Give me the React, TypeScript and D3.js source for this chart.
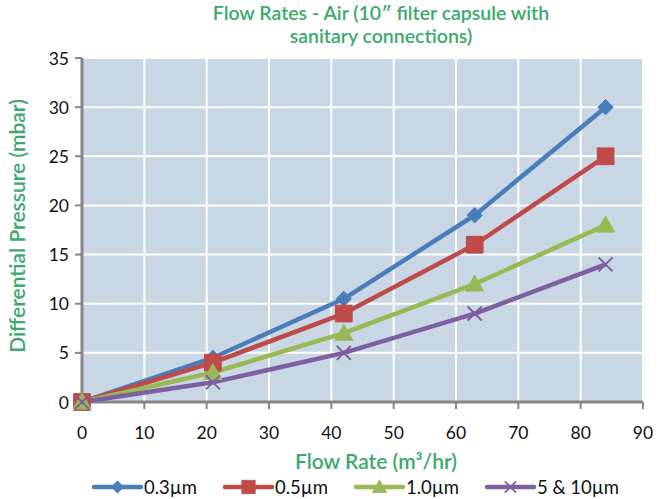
import { useEffect, useRef } from "react";
import * as d3 from "d3";

// flow rate (m³/hr) and differential pressure (mbar) per filter grade
const flowRates = [0, 21, 42, 63, 84];
const p03 = [0, 4.5, 10.5, 19, 30];
const p05 = [0, 4, 9, 16, 25];
const p10 = [0, 3, 7, 12, 18];
const p510 = [0, 2, 5, 9, 14];

const seriesNames = ["0.3µm", "0.5µm", "1.0µm", "5 & 10µm"];
const seriesColors = ["#4a7ebb", "#be4b48", "#98b954", "#7d60a0"];
const seriesMarkers = ["diamond", "square", "triangle", "cross"];

const xTicks = [0, 10, 20, 30, 40, 50, 60, 70, 80, 90];
const yTicks = [0, 5, 10, 15, 20, 25, 30, 35];

const GREEN = "#3aaa6c";
const FONT = "Lato, 'Open Sans', sans-serif";

const App = () => {
  const svgRef = useRef<SVGSVGElement | null>(null);

  useEffect(() => {
    const width = 658;
    const height = 499;
    const margin = { top: 58, right: 15, bottom: 97, left: 82 };

    const svg = d3.select(svgRef.current);
    svg.selectAll("*").remove();
    svg.attr("width", width).attr("height", height);

    const x = d3.scaleLinear().domain([0, 90]).range([margin.left, width - margin.right]);
    const y = d3.scaleLinear().domain([0, 35]).range([height - margin.bottom, margin.top]);

    // plot background
    svg
      .append("rect")
      .attr("x", x(0))
      .attr("y", y(35))
      .attr("width", x(90) - x(0))
      .attr("height", y(0) - y(35))
      .attr("fill", "#c9d7e5");

    // gridlines
    svg
      .selectAll(".vgrid")
      .data(xTicks.slice(1))
      .enter()
      .append("line")
      .attr("x1", (d) => x(d))
      .attr("x2", (d) => x(d))
      .attr("y1", y(0))
      .attr("y2", y(35))
      .attr("stroke", "white")
      .attr("stroke-width", 2);

    svg
      .selectAll(".hgrid")
      .data(yTicks.slice(1))
      .enter()
      .append("line")
      .attr("x1", x(0))
      .attr("x2", x(90))
      .attr("y1", (d) => y(d))
      .attr("y2", (d) => y(d))
      .attr("stroke", "white")
      .attr("stroke-width", 2);

    // axes
    const axisColor = "#868686";
    svg
      .append("line")
      .attr("x1", x(0))
      .attr("x2", x(0))
      .attr("y1", y(0))
      .attr("y2", y(35))
      .attr("stroke", axisColor)
      .attr("stroke-width", 3);
    svg
      .append("line")
      .attr("x1", x(0) - 1)
      .attr("x2", x(90))
      .attr("y1", y(0))
      .attr("y2", y(0))
      .attr("stroke", axisColor)
      .attr("stroke-width", 3);

    svg
      .selectAll(".ytick")
      .data(yTicks)
      .enter()
      .append("line")
      .attr("x1", x(0) - 7)
      .attr("x2", x(0))
      .attr("y1", (d) => y(d))
      .attr("y2", (d) => y(d))
      .attr("stroke", axisColor)
      .attr("stroke-width", 2);

    svg
      .selectAll(".xtick")
      .data(xTicks)
      .enter()
      .append("line")
      .attr("x1", (d) => x(d))
      .attr("x2", (d) => x(d))
      .attr("y1", y(0))
      .attr("y2", y(0) + 7)
      .attr("stroke", axisColor)
      .attr("stroke-width", 2);

    svg
      .selectAll(".ylabel")
      .data(yTicks)
      .enter()
      .append("text")
      .attr("x", x(0) - 13)
      .attr("y", (d) => y(d))
      .attr("text-anchor", "end")
      .attr("dominant-baseline", "central")
      .attr("fill", "#111")
      .style("font-family", FONT)
      .style("font-size", "17.5px")
      .text((d) => d);

    svg
      .selectAll(".xlabel")
      .data(xTicks)
      .enter()
      .append("text")
      .attr("x", (d) => x(d))
      .attr("y", y(0) + 30)
      .attr("text-anchor", "middle")
      .attr("dominant-baseline", "central")
      .attr("fill", "#111")
      .style("font-family", FONT)
      .style("font-size", "17.5px")
      .text((d) => d);

    const markerPath = (kind: string) => {
      if (kind === "diamond") return d3.symbol(d3.symbolDiamond2, 150)();
      if (kind === "square") return d3.symbol(d3.symbolSquare, 280)();
      if (kind === "triangle") return "M0,-9L9,7L-9,7Z";
      return "M-7,-7L7,7M-7,7L7,-7";
    };

    const allSeries = [p03, p05, p10, p510];
    const line = d3
      .line<number>()
      .x((_, i) => x(flowRates[i]))
      .y((d) => y(d));

    allSeries.forEach((values, si) => {
      svg
        .append("path")
        .attr("d", line(values))
        .attr("fill", "none")
        .attr("stroke", seriesColors[si])
        .attr("stroke-width", 4.5)
        .attr("stroke-linejoin", "round");
    });

    allSeries.forEach((values, si) => {
      const kind = seriesMarkers[si];
      svg
        .selectAll(`.m${si}`)
        .data(values)
        .enter()
        .append("path")
        .attr("transform", (d, i) => `translate(${x(flowRates[i])},${y(d)})`)
        .attr("d", markerPath(kind))
        .attr("fill", kind === "cross" ? "none" : seriesColors[si])
        .attr("stroke", seriesColors[si])
        .attr("stroke-width", kind === "cross" ? 2 : 1);
    });

    // titles
    const title = svg
      .append("text")
      .attr("x", 381)
      .attr("text-anchor", "middle")
      .attr("fill", GREEN)
      .style("font-family", FONT)
      .style("font-size", "19.5px")
      .style("font-weight", 600);
    title.append("tspan").attr("x", 381).attr("y", 20).text("Flow Rates - Air (10″ filter capsule with");
    title.append("tspan").attr("x", 381).attr("y", 43).text("sanitary connections)");

    svg
      .append("text")
      .attr("transform", `translate(16,${(y(0) + y(35)) / 2 - 4}) rotate(-90)`)
      .attr("text-anchor", "middle")
      .attr("dominant-baseline", "central")
      .attr("fill", GREEN)
      .style("font-family", FONT)
      .style("font-size", "21px")
      .style("font-weight", 600)
      .text("Differential Pressure (mbar)");

    svg
      .append("text")
      .attr("x", 376)
      .attr("y", 460)
      .attr("text-anchor", "middle")
      .attr("dominant-baseline", "central")
      .attr("fill", GREEN)
      .style("font-family", FONT)
      .style("font-size", "21px")
      .style("font-weight", 600)
      .text("Flow Rate (m³/hr)");

    // legend
    const legendX = [94, 225, 356, 487];
    const legendY = 487;
    seriesNames.forEach((name, si) => {
      const g = svg.append("g").attr("transform", `translate(${legendX[si]},${legendY})`);
      g.append("line")
        .attr("x1", 0)
        .attr("x2", 47)
        .attr("y1", 0)
        .attr("y2", 0)
        .attr("stroke", seriesColors[si])
        .attr("stroke-width", 4.5)
        .attr("stroke-linecap", "round");
      const kind = seriesMarkers[si];
      g.append("path")
        .attr("transform", "translate(23.5,0) scale(0.8)")
        .attr("d", markerPath(kind))
        .attr("fill", kind === "cross" ? "none" : seriesColors[si])
        .attr("stroke", seriesColors[si])
        .attr("stroke-width", kind === "cross" ? 2 : 1);
      g.append("text")
        .attr("x", 50)
        .attr("y", 0)
        .attr("dominant-baseline", "central")
        .attr("fill", "#111")
        .style("font-family", FONT)
        .style("font-size", "18.5px")
        .text(name);
    });
  }, []);

  return (
    <div style={{ position: "absolute", left: 0, top: 0 }}>
      <svg ref={svgRef}></svg>
    </div>
  );
};

export default App;
